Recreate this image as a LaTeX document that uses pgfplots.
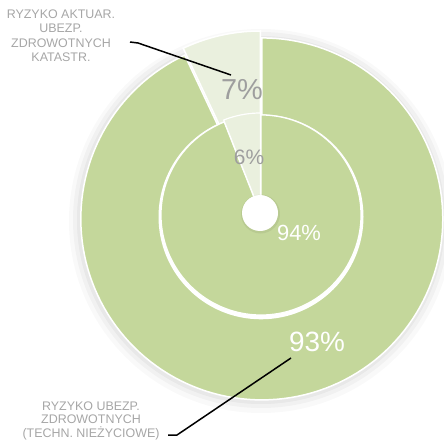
\documentclass[border=0pt]{standalone}
\usepackage{pgfplots}
\pgfplotsset{compat=1.18}
\usepackage{fontspec}
\setmainfont{Liberation Sans}
\definecolor{ringgreen}{HTML}{C4D79B}
\definecolor{ringlight}{HTML}{EAF0DE}
\definecolor{labgray}{HTML}{A6A6A6}
\definecolor{pctgray}{HTML}{9E9E9E}

% shares in percent (outer ring / inner pie)
\def\outerBig{93}
\def\outerSmall{7}
\def\innerBig{94}
\def\innerSmall{6}

\begin{document}
\begin{tikzpicture}
\begin{axis}[
    width=444bp, height=444bp, scale only axis,
    xmin=0, xmax=444, ymin=0, ymax=444,
    y dir=reverse,
    hide axis, clip=false,
]
% soft shadow round the outer ring
\fill[black, opacity=0.025] (axis cs:261,221) circle[radius=192bp];
\fill[black, opacity=0.03] (axis cs:261,220) circle[radius=188bp];
\fill[black, opacity=0.04] (axis cs:261,220) circle[radius=184bp];

% outer ring: slices clockwise from 12 o'clock
\addplot[fill=ringgreen, draw=white, line width=1.5bp, variable=\t,
    domain={90-3.6*\outerBig}:90, samples=150]
    ({261.8+181*cos(\t)}, {218.9-181*sin(\t)}) -- (axis cs:261.8,218.9) -- cycle;
\addplot[fill=ringlight, draw=white, line width=1.5bp, variable=\t,
    domain=90:{90+3.6*\outerSmall}, samples=20]
    ({260.3+181*cos(\t)}, {212-181*sin(\t)}) -- (axis cs:260.3,212) -- cycle;

% white band round the inner pie
\fill[white] (axis cs:261,216.8) circle[radius=102.5bp];

% inner pie
\addplot[fill=ringgreen, draw=white, line width=1.2bp, variable=\t,
    domain={90-3.6*\innerBig}:90, samples=150]
    ({261+100*cos(\t)}, {215-100*sin(\t)}) -- (axis cs:261,215) -- cycle;
\addplot[fill=ringlight, draw=white, line width=1.2bp, variable=\t,
    domain=90:{90+3.6*\innerSmall}, samples=20]
    ({260.5+100*cos(\t)}, {213-100*sin(\t)}) -- (axis cs:260.5,213) -- cycle;

% centre dot
\fill[black, opacity=0.06] (axis cs:260.5,214) circle[radius=19.5bp];
\fill[white] (axis cs:260,213) circle[radius=18bp];

% value labels
\node[inner sep=0, text=pctgray, font=\fontsize{29}{29}\selectfont] at (axis cs:242,90) {7\%};
\node[inner sep=0, text=pctgray, font=\fontsize{21}{21}\selectfont] at (axis cs:249,157) {6\%};
\node[inner sep=0, text=white, font=\fontsize{22}{22}\selectfont] at (axis cs:299,233) {94\%};
\node[inner sep=0, text=white, font=\fontsize{28}{28}\selectfont] at (axis cs:317,342) {93\%};

% category labels and leader lines
\node[inner sep=0, align=center, text=labgray, font=\fontsize{12.5}{14.5}\selectfont]
    at (axis cs:61,35.5) {RYZYKO AKTUAR.\\UBEZP.\\ZDROWOTNYCH\\KATASTR.};
\draw[black, line width=1.5bp] (axis cs:130,42) -- (axis cs:138,43) -- (axis cs:231,75);
\node[inner sep=0, align=center, text=labgray, font=\fontsize{12.5}{13.5}\selectfont]
    at (axis cs:91,420.5) {RYZYKO UBEZP.\\ZDROWOTNYCH\\(TECHN. NIEŻYCIOWE)};
\draw[black, line width=1.5bp] (axis cs:168,435) -- (axis cs:177,435) -- (axis cs:291,358);
\end{axis}
\pgfresetboundingbox
\path[use as bounding box] (current axis.south west) rectangle (current axis.north east);
\end{tikzpicture}
\end{document}
